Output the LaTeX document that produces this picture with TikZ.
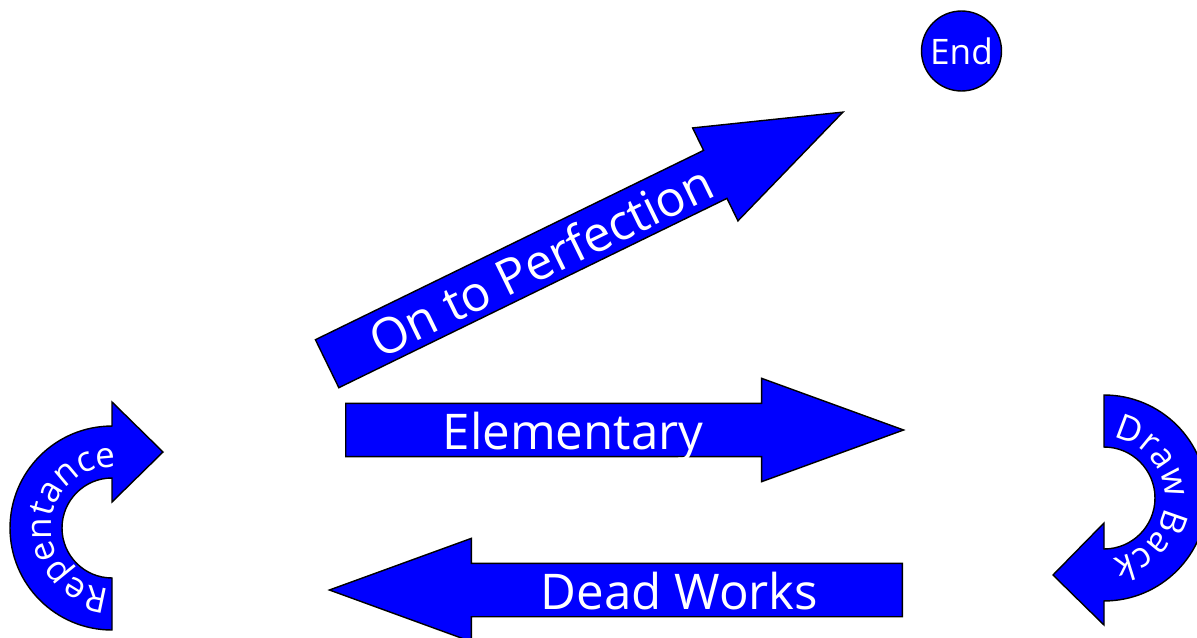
\documentclass[tikz,border=0pt]{standalone}
\usepackage{fontspec}
\setmainfont{Open Sans}
\usetikzlibrary{shapes.arrows,decorations.text}

\begin{document}
\begin{tikzpicture}[x=0.02cm, y=0.02cm,
    blockarrow/.style={single arrow, draw=black, fill=blue, line width=0.8pt, text=white,
        font=\fontsize{28}{30}\selectfont, single arrow head extend=0.5cm,
        single arrow tip angle=40, inner xsep=0pt, inner ysep=0.08cm,
        text height=0.83cm, text depth=0.05cm, anchor=tail},
    curvedarrow/.style={draw=black, fill=blue, line width=0.8pt},
    curvelabel/.style={decorate, decoration={text along path, text align=center,
        text color=white, text={|\fontsize{20}{22}\selectfont|#1}}}
]
\useasboundingbox (0,0) rectangle (1197,637);

% straight arrows
\node[blockarrow, minimum height=11.16cm] (elementary) at (345,207) {Elementary\kern0.6cm};
\node[blockarrow, minimum height=11.46cm, shape border rotate=180] (deadworks) at (903,47) {\hspace{1.08cm}Dead Works};
\node[blockarrow, minimum height=11.48cm, rotate=26] (perfection) at (326.5,273) {On to Perfection\kern0.52cm};

% end
\node[circle, draw=black, fill=blue, line width=0.8pt, text=white, minimum size=1.6cm,
    inner sep=0pt, font=\fontsize{20}{22}\selectfont] (end) at (961.5,586) {End};

% curved arrows
\draw[curvedarrow] (112,7) arc[start angle=270, end angle=90, radius=2.04cm]
    -- (112,235) -- (163,185) -- (112,135) -- (112,159)
    arc[start angle=90, end angle=270, radius=1cm] -- cycle;
\path[curvelabel=Repentance] (112,109) ++(264:1.22cm) arc[start angle=264, end angle=90, radius=1.22cm];

\draw[curvedarrow] (1104,242) arc[start angle=90, end angle=-90, radius=2.06cm]
    -- (1104,12) -- (1053,62) -- (1104,114) -- (1104,88)
    arc[start angle=-90, end angle=90, radius=1.02cm] -- cycle;
\path[curvelabel={Draw Back}] (1104,139) ++(90:1.22cm) arc[start angle=90, end angle=-90, radius=1.22cm];
\end{tikzpicture}
\end{document}
